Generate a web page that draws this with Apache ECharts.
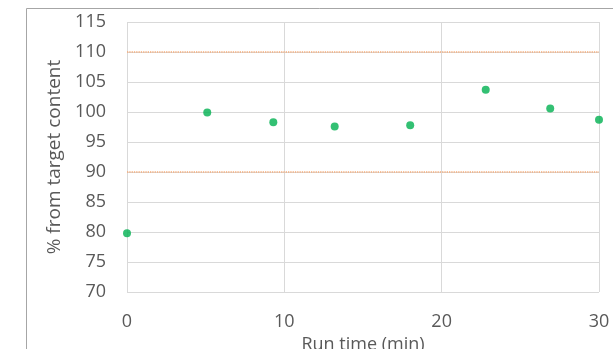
<!DOCTYPE html>
<html>
<head>
<meta charset="utf-8">
<script src="https://cdn.jsdelivr.net/npm/echarts@6/dist/echarts.min.js"></script>
<style>
html,body{margin:0;padding:0;background:#fff;}
#chart{width:613px;height:349px;}
</style>
</head>
<body>
<div id="chart"></div>
<script>
// Data
var runTime = [0, 5.1, 9.3, 13.2, 18.0, 22.8, 26.9, 30.0];
var pctTarget = [79.8, 99.9, 98.3, 97.6, 97.8, 103.7, 100.6, 98.7];
var upperLimit = 110;
var lowerLimit = 90;
var xRange = [0, 30];
var yRange = [70, 115];

var chart = echarts.init(document.getElementById('chart'));
var font = 'Open Sans';
var txt = '#595959';
var grid = '#d9d9d9';
var limitColor = '#F5AC7A';

chart.setOption({
  animation: false,
  backgroundColor: '#fff',
  graphic: [
    {type: 'line', shape: {x1: 26.5, y1: 8.5, x2: 613, y2: 8.5}, style: {stroke: '#a6a6a6', lineWidth: 1}},
    {type: 'line', shape: {x1: 26.5, y1: 8.5, x2: 26.5, y2: 349}, style: {stroke: '#a6a6a6', lineWidth: 1}}
  ],
  grid: {left: 127, right: 14, top: 22, bottom: 57, containLabel: false, outerBoundsMode: 'none'},
  xAxis: {
    type: 'value', min: xRange[0], max: xRange[1], interval: 10,
    name: 'Run time (min)', nameLocation: 'middle', nameGap: 36,
    nameTextStyle: {fontFamily: font, fontSize: 18, color: txt},
    axisLine: {show: false}, axisTick: {show: false},
    axisLabel: {fontFamily: font, fontSize: 18, color: txt, margin: 21},
    splitLine: {show: true, lineStyle: {color: grid, width: 1}}
  },
  yAxis: {
    type: 'value', min: yRange[0], max: yRange[1], interval: 5,
    name: '% from target content', nameLocation: 'middle', nameGap: 44,
    nameTextStyle: {fontFamily: font, fontSize: 19, color: txt},
    axisLine: {show: false}, axisTick: {show: false},
    axisLabel: {fontFamily: font, fontSize: 18, color: txt, margin: 21},
    splitLine: {show: true, lineStyle: {color: grid, width: 1}}
  },
  series: [
    {
      type: 'line', data: [[xRange[0], upperLimit], [xRange[1], upperLimit]],
      symbol: 'none', lineStyle: {color: limitColor, width: 1.3, type: [1.3, 1]}, z: 1
    },
    {
      type: 'line', data: [[xRange[0], lowerLimit], [xRange[1], lowerLimit]],
      symbol: 'none', lineStyle: {color: limitColor, width: 1.3, type: [1.3, 1]}, z: 1
    },
    {
      type: 'scatter', data: runTime.map(function (t, i) { return [t, pctTarget[i]]; }),
      symbolSize: 8, itemStyle: {color: '#00B050'}, z: 3
    }
  ]
});
</script>
</body>
</html>
